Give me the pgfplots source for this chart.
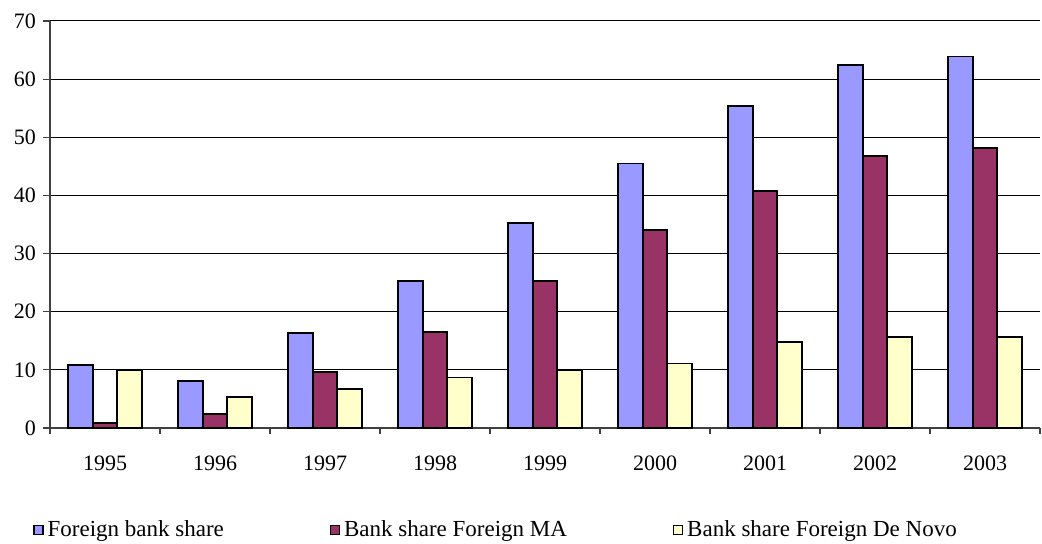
\documentclass[border=0pt]{standalone}
\usepackage{pgfplots}
\pgfplotsset{compat=1.18}
\usepackage{fontspec}
\setmainfont{Liberation Serif}
\definecolor{cblue}{HTML}{9999FF}
\definecolor{cmaroon}{HTML}{993366}
\definecolor{cyellow}{HTML}{FFFFCC}
\pgfplotstableread{
x  fb    ma    dn
0  10.8  0.8   10.0
1  8.1   2.35  5.4
2  16.3  9.6   6.65
3  25.3  16.5  8.7
4  35.3  25.3  10.0
5  45.5  34.1  11.1
6  55.4  40.7  14.75
7  62.4  46.8  15.6
8  63.9  48.2  15.6
}\datatable
\begin{document}
\begin{tikzpicture}
\begin{axis}[
  scale only axis,
  width=495pt, height=203.5pt,
  xmin=-0.5, xmax=8.5,
  ymin=0, ymax=70,
  axis x line*=bottom,
  axis y line*=left,
  axis line style={draw=black!75, line width=0.6pt},
  xtick={0,...,8},
  xticklabels={1995,1996,1997,1998,1999,2000,2001,2002,2003},
  x tick style={draw=none},
  minor xtick={-0.5,0.5,...,8.5},
  minor x tick style={draw=black!75, line width=0.6pt},
  minor tick length=3pt,
  ytick={0,10,...,60},
  extra y ticks={70},
  extra y tick style={grid style={draw=black!40, line width=0.6pt}},
  y tick style={draw=black!75, line width=0.6pt},
  major tick length=3.5pt,
  tick align=outside,
  ymajorgrids,
  major grid style={draw=black, line width=0.5pt},
  /pgf/number format/assume math mode=true,
  tick label style={font=\fontsize{11}{13}\selectfont},
  xticklabel style={yshift=-7pt},
  ybar=0pt,
  bar width=0.223,
  legend columns=3,
  legend style={
    at={(0,0)}, anchor=west, xshift=-8.5pt, yshift=-51pt,
    draw=none, fill=none, inner sep=0pt,
    font=\fontsize{11.5}{13}\selectfont,
    /tikz/every even column/.append style={column sep=51pt},
  },
  legend image code/.code={\draw[#1,draw=black,line width=0.6pt] (0pt,-2.2pt) rectangle (4.5pt,2.3pt);},
  every axis plot/.append style={draw=black, line width=0.9pt},
]
\addplot[fill=cblue, draw=black, line width=0.9pt, bar shift=-0.223] table[x=x,y=fb] {\datatable};
\addplot[fill=cmaroon, draw=black, line width=0.9pt, bar shift=0] table[x=x,y=ma] {\datatable};
\addplot[fill=cyellow, draw=black, line width=0.9pt, bar shift=0.223] table[x=x,y=dn] {\datatable};
\legend{Foreign bank share, Bank share Foreign MA, Bank share Foreign De Novo}
\end{axis}
\path ([xshift=-25pt,yshift=-56.5pt]current axis.south west) rectangle ([xshift=1pt,yshift=10.5pt]current axis.north east);
\end{tikzpicture}
\end{document}
